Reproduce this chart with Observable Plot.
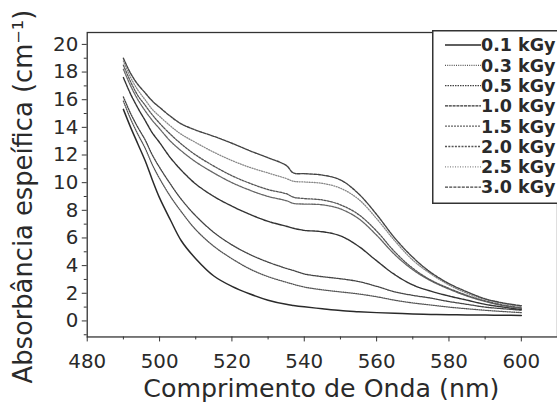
<!DOCTYPE html>
<html><head><meta charset="utf-8">
<script src="https://cdn.jsdelivr.net/npm/d3@7"></script>
<script src="https://cdn.jsdelivr.net/npm/@observablehq/plot@0.6"></script>
<style>
html,body{margin:0;padding:0;background:#fff;overflow:hidden;}
#wrap{position:relative;width:557px;height:406px;overflow:hidden;}
#legend{position:absolute;left:432px;top:30px;}
</style></head><body><div id="wrap"></div>
<script>
const wavelengths = [490,492,494,496,498,500,503,506,510,515,520,525,530,535,537,540,545,550,555,560,565,570,575,580,585,590,595,600];
const doses = ["0.1 kGy","0.3 kGy","0.5 kGy","1.0 kGy","1.5 kGy","2.0 kGy","2.5 kGy","3.0 kGy"];
const abs01 = [15.3,14.0,12.8,11.6,10.2,8.9,7.3,5.8,4.5,3.25,2.5,1.95,1.5,1.2,1.12,1.02,0.88,0.75,0.67,0.6,0.55,0.5,0.47,0.45,0.43,0.42,0.41,0.4];
const abs03 = [15.9,14.6,13.5,12.5,11.3,10.3,9.0,7.9,6.6,5.4,4.5,3.75,3.2,2.8,2.65,2.45,2.25,2.1,1.95,1.75,1.5,1.3,1.15,1.0,0.88,0.77,0.68,0.6];
const abs05 = [16.2,15.0,14.0,13.1,12.0,11.1,9.9,8.8,7.6,6.4,5.5,4.8,4.25,3.8,3.65,3.4,3.2,3.05,2.85,2.5,2.1,1.85,1.65,1.4,1.2,1.0,0.88,0.78];
const abs10 = [17.6,16.4,15.4,14.5,13.6,12.9,11.8,10.9,9.9,9.0,8.3,7.7,7.2,6.85,6.7,6.55,6.45,6.15,5.4,4.35,3.35,2.6,2.15,1.8,1.5,1.2,1.0,0.82];
const abs15 = [18.2,17.0,16.0,15.2,14.5,13.9,13.0,12.3,11.5,10.7,10.0,9.45,9.0,8.7,8.5,8.45,8.4,8.1,7.4,6.2,4.8,3.7,2.9,2.3,1.8,1.4,1.1,0.9];
const abs20 = [18.5,17.3,16.3,15.6,14.9,14.3,13.5,12.8,12.0,11.2,10.5,9.95,9.5,9.2,8.95,8.85,8.75,8.4,7.7,6.5,5.0,3.8,2.95,2.35,1.85,1.45,1.15,0.95];
const abs25 = [18.8,17.6,16.7,16.0,15.3,14.8,14.1,13.5,12.9,12.2,11.6,11.1,10.7,10.3,10.1,10.05,9.95,9.6,8.8,7.4,5.8,4.4,3.4,2.6,2.0,1.55,1.25,1.05];
const abs30 = [19.0,17.9,17.1,16.5,15.9,15.45,14.8,14.25,13.8,13.35,12.85,12.3,11.8,11.25,10.7,10.65,10.55,10.2,9.2,7.7,6.0,4.6,3.5,2.7,2.1,1.6,1.3,1.1];
const series = [abs01,abs03,abs05,abs10,abs15,abs20,abs25,abs30];
const xTicks = [480,500,520,540,560,580,600];
const yTicks = [0,2,4,6,8,10,12,14,16,18,20];
const xTitle = "Comprimento de Onda (nm)";
const yTitle = "Absorbância espeífica (cm⁻¹)";

const styles = [
  {stroke:"#2a2a2a", dash:null, w:1.5},
  {stroke:"#555", dash:"1,1.2", w:1.3},
  {stroke:"#444", dash:"1.5,1", w:1.3},
  {stroke:"#333", dash:"3,0.8", w:1.4},
  {stroke:"#666", dash:"2,1", w:1.3},
  {stroke:"#555", dash:"2,1.3", w:1.3},
  {stroke:"#888", dash:"1,1.5", w:1.3},
  {stroke:"#444", dash:"3,1.2", w:1.4}
];

const rows = doses.flatMap((d,i)=>wavelengths.map((w,j)=>({dose:d, wl:w, a:series[i][j]})));

const lineMarks = doses.map((d,i)=>Plot.line(rows.filter(r=>r.dose===d), {
  x:"wl", y:"a", stroke:styles[i].stroke, strokeWidth:styles[i].w,
  strokeDasharray: styles[i].dash || undefined, curve:"catmull-rom"
}));

const xMinor = d3.range(490, 610, 20);
const yMinor = d3.range(-1, 21, 2);

const chart = Plot.plot({
  width: 562, height: 406,
  marginLeft: 87.5, marginRight: 0, marginTop: 32.3, marginBottom: 66.5,
  style: {fontFamily: "DejaVu Sans", color: "#2a2a2a", background: "white", overflow: "visible"},
  x: {domain: [480, 610]},
  y: {domain: [-1.16, 20.86]},
  marks: [
    ...lineMarks,
    Plot.frame({stroke: "#333", strokeWidth: 1.3}),
    Plot.axisX({ticks: xTicks, tickSize: 5, tickPadding: 12, fontSize: 20, label: null, stroke: "#333"}),
    Plot.axisX({ticks: xMinor, tickSize: 3, text: null, label: null, stroke: "#333"}),
    Plot.axisY({ticks: yTicks, tickSize: 5, tickPadding: 4, fontSize: 20, label: null, stroke: "#333"}),
    Plot.axisY({ticks: yMinor, tickSize: 3, text: null, label: null, stroke: "#333"}),
    Plot.text([xTitle], {frameAnchor: "bottom", dy: 52, dx: -1, fontSize: 25.5, lineAnchor: "middle", textAnchor: "middle", fill: "#2a2a2a"}),
    Plot.text([yTitle], {frameAnchor: "left", dx: -64.5, dy: 12, rotate: -90, fontSize: 26, lineAnchor: "middle", textAnchor: "middle", fill: "#2a2a2a"})
  ]
});
const wrap = document.getElementById("wrap");
wrap.appendChild(chart);

// legend
const lg = d3.select(wrap).append("svg").attr("id","legend")
  .attr("width", 130).attr("height", 175);
lg.append("rect").attr("x",0.75).attr("y",0.75).attr("width",130).attr("height",172.5)
  .attr("fill","white").attr("stroke","#333").attr("stroke-width",1.5);
doses.forEach((d,i)=>{
  const cy = 15 + i*20.3;
  lg.append("line").attr("x1",13).attr("x2",49).attr("y1",cy).attr("y2",cy)
    .attr("stroke",styles[i].stroke).attr("stroke-width",styles[i].w)
    .attr("stroke-dasharray",styles[i].dash);
  lg.append("text").attr("x",49).attr("y",cy).attr("dy","0.36em")
    .attr("font-family","DejaVu Sans").attr("font-weight","bold").attr("font-size",17.5)
    .attr("fill","#2a2a2a").text(d);
});
</script></body></html>
